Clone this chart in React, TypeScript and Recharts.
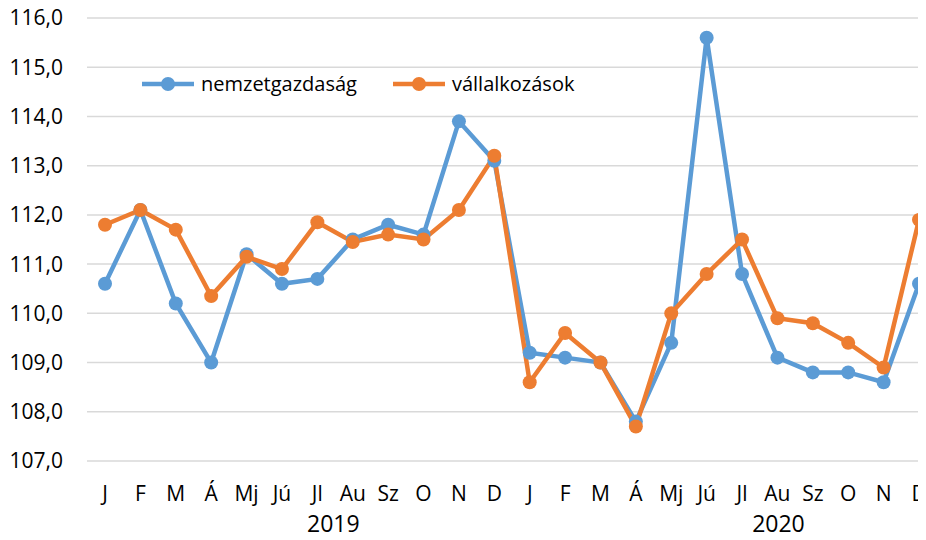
import { LineChart, Line, XAxis, YAxis, CartesianGrid, Legend } from "recharts";

const months = ["J", "F", "M", "Á", "Mj", "Jú", "Jl", "Au", "Sz", "O", "N", "D"];
const years = ["2019", "2020"];

// 2019 J..D, then 2020 J..D
const nemzetgazdasag = [
  110.6, 112.1, 110.2, 109.0, 111.2, 110.6, 110.7, 111.5, 111.8, 111.6, 113.9, 113.1,
  109.2, 109.1, 109.0, 107.8, 109.4, 115.6, 110.8, 109.1, 108.8, 108.8, 108.6, 110.6,
];
const vallalkozasok = [
  111.8, 112.1, 111.7, 110.35, 111.15, 110.9, 111.85, 111.45, 111.6, 111.5, 112.1, 113.2,
  108.6, 109.6, 109.0, 107.7, 110.0, 110.8, 111.5, 109.9, 109.8, 109.4, 108.9, 111.9,
];
const yTicks = [107, 108, 109, 110, 111, 112, 113, 114, 115, 116];

const data = years.flatMap((year, yi) =>
  months.map((month, mi) => ({
    id: `${year}-${month}`,
    month,
    year,
    nemzetgazdaság: nemzetgazdasag[yi * 12 + mi],
    vállalkozások: vallalkozasok[yi * 12 + mi],
  }))
);

const FONT = "'Open Sans', sans-serif";
const BLUE = "#5B9BD5";
const ORANGE = "#ED7D31";

function MonthTick(props: any) {
  const { x, y, index } = props;
  const row = data[index];
  // year label sits under the middle of its group
  const yearShift = index === 6 ? 16 : index === 19 ? 1 : null;
  return (
    <g>
      <text x={x} y={y} dy="0.71em" textAnchor="middle" fontSize={21} fontFamily={FONT} fill="#000">
        {row ? row.month : ""}
      </text>
      {yearShift !== null && (
        <text x={x + yearShift} y={y + 46} textAnchor="middle" fontSize={23} fontFamily={FONT} fill="#000">
          {row.year}
        </text>
      )}
    </g>
  );
}

function LegendContent(props: any) {
  const items = props.payload || [];
  return (
    <div style={{ display: "flex", alignItems: "center", fontFamily: FONT, fontSize: 20, color: "#000" }}>
      {items.map((item: any, i: number) => (
        <div key={i} style={{ display: "flex", alignItems: "center", marginRight: 36 }}>
          <svg width={52} height={16} style={{ marginRight: 7 }}>
            <line x1={0} y1={8} x2={52} y2={8} stroke={item.color} strokeWidth={4.5} />
            <circle cx={26} cy={8} r={7} fill={item.color} />
          </svg>
          <span>{item.value}</span>
        </div>
      ))}
    </div>
  );
}

export default function App() {
  return (
    <div style={{ marginLeft: -8, marginTop: -8, width: 926, height: 540, overflow: "hidden", background: "#fff" }}>
      <LineChart width={940} height={540} data={data} margin={{ top: 18, right: 3, bottom: 0, left: 0 }}>
        <CartesianGrid vertical={false} stroke="#d9d9d9" strokeWidth={1.5} />
        <XAxis
          dataKey="id"
          interval={0}
          padding={{ left: 18, right: 18 }}
          axisLine={false}
          tickLine={false}
          tickSize={0}
          tickMargin={25}
          height={79}
          tick={<MonthTick />}
        />
        <YAxis
          domain={[107, 116]}
          ticks={yTicks}
          width={87}
          axisLine={false}
          tickLine={false}
          tickSize={0}
          tickMargin={24}
          tick={{ fontSize: 21, fontFamily: FONT, fill: "#000" }}
          tickFormatter={(v: number) => v.toFixed(1).replace(".", ",")}
        />
        <Legend
          layout="horizontal"
          verticalAlign="middle"
          align="center"
          content={<LegendContent />}
          wrapperStyle={{ position: "absolute", top: 70, left: 142, width: "auto" }}
        />
        <Line
          dataKey="nemzetgazdaság"
          stroke={BLUE}
          strokeWidth={4.5}
          dot={{ r: 7, fill: BLUE, stroke: "none" }}
          activeDot={false}
          isAnimationActive={false}
        />
        <Line
          dataKey="vállalkozások"
          stroke={ORANGE}
          strokeWidth={4.5}
          dot={{ r: 7, fill: ORANGE, stroke: "none" }}
          activeDot={false}
          isAnimationActive={false}
        />
      </LineChart>
    </div>
  );
}
